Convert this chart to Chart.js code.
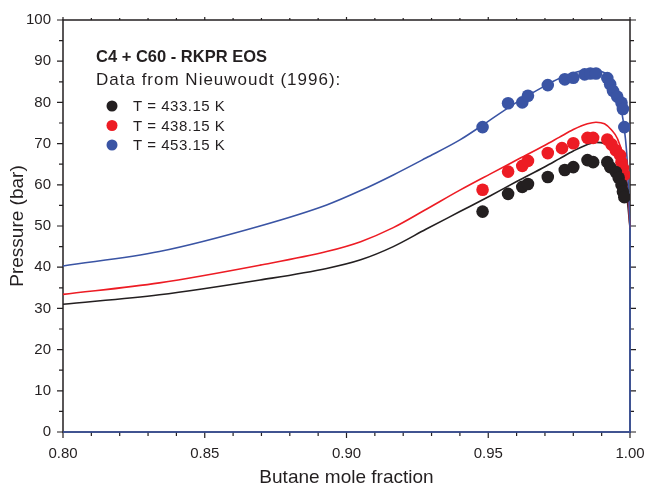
<!DOCTYPE html>
<html>
<head>
<meta charset="utf-8">
<script src="https://cdn.jsdelivr.net/npm/chart.js@4"></script>
<style>
  html, body { margin: 0; padding: 0; background: #fff; }
  #wrap { width: 646px; height: 489px; }
</style>
</head>
<body>
<div id="wrap"><canvas id="chart" width="646" height="489"></canvas></div>
<script>
/* === DATA === */
const tempLabels = ['T = 433.15 K', 'T = 438.15 K', 'T = 453.15 K'];
const colors = ['#231f20', '#ed1c24', '#3a54a4'];

// experimental points [x, P]
const exp433 = [[0.948,53.5],[0.957,57.8],[0.962,59.5],[0.964,60.2],[0.971,61.9],[0.977,63.6],[0.980,64.3],
  [0.985,66.0],[0.987,65.5],[0.992,65.5],[0.993,64.3],[0.995,63.1],[0.996,61.7],[0.997,60.0],[0.9975,58.3],[0.998,57.0]];
const exp438 = [[0.948,58.8],[0.957,63.2],[0.962,64.6],[0.964,65.8],[0.971,67.7],[0.976,68.9],[0.980,70.1],
  [0.985,71.4],[0.987,71.4],[0.992,71.0],[0.9935,69.8],[0.995,68.4],[0.9965,67.2],[0.997,65.5],[0.9975,64.1],[0.998,62.4]];
const exp453 = [[0.948,74.0],[0.957,79.8],[0.962,80.0],[0.964,81.6],[0.971,84.2],[0.977,85.6],[0.980,86.0],
  [0.984,86.8],[0.986,87.0],[0.988,87.0],[0.992,85.9],[0.993,84.4],[0.994,82.8],[0.9955,81.4],[0.997,79.9],[0.9975,78.4],[0.998,74.0]];

// RKPR model curves
const calcX   = [0.80, 0.834, 0.8695, 0.893, 0.905, 0.9165, 0.928, 0.94, 0.9506, 0.96, 0.97, 0.975, 0.98, 0.985, 0.988, 0.991, 0.9935, 0.9955, 0.9975, 0.999, 1.0];
const calc433 = [31.0, 33.3, 36.9, 39.7, 41.8, 45.0, 49.2, 53.5, 57.3, 60.8, 64.4, 66.3, 68.2, 69.8, 70.3, 70.0, 68.8, 67.0, 63.0, 56.5, 49.5];
const calc438 = [33.4, 36.2, 40.5, 43.8, 46.2, 49.6, 54.0, 58.7, 62.6, 66.0, 69.6, 71.5, 73.4, 74.8, 75.2, 74.8, 73.3, 71.3, 67.0, 60.0, 49.5];
const calc453 = [40.3, 43.8, 50.0, 55.1, 58.6, 62.4, 66.5, 70.9, 75.7, 80.0, 84.0, 85.8, 87.1, 87.9, 87.8, 87.2, 85.8, 82.6, 76.0, 66.0, 49.5];
// the 453.15 K envelope runs on down x = 1 and back along P = 0
const tailX = [1.0, 1.0, 0.80];
const tailP = [49.5, 0, 0];

const xTicks = ['0.80', '0.85', '0.90', '0.95', '1.00'];
const yTicks = ['0', '10', '20', '30', '40', '50', '60', '70', '80', '90', '100'];

const FONT = '"Liberation Sans", Arial, sans-serif';
const INK = '#231f20';

function pts(arr) { return arr.map(p => ({ x: p[0], y: p[1] })); }
function curve(xs, ys) { return xs.map((x, i) => ({ x: x, y: ys[i] })); }

function lineSet(data, color, order, smooth) {
    return { type: 'line', data: data, borderColor: color, borderWidth: 1.6, pointRadius: 0,
             fill: false, tension: smooth ? 0.4 : 0, cubicInterpolationMode: smooth ? 'monotone' : 'default',
             order: order, clip: false };
}
function dotSet(data, color, order) {
    return { type: 'scatter', data: pts(data), backgroundColor: color, borderColor: color,
             pointRadius: 6.3, pointBorderWidth: 0, order: order };
}

/* === FRAME, MINOR TICKS, ANNOTATION === */
const framePlugin = {
    id: 'frame',
    beforeDatasetsDraw(chart) {
        const { ctx, chartArea: a, scales } = chart;
        ctx.save();
        ctx.strokeStyle = INK;
        ctx.lineWidth = 1.5;
        ctx.strokeRect(a.left, a.top, a.right - a.left, a.bottom - a.top);
        ctx.lineWidth = 1.2;
        ctx.beginPath();
        for (let i = 0; i <= 20; i++) {
            const px = scales.x.getPixelForValue(0.80 + i * 0.01);
            const len = i % 5 === 0 ? 6 : 4;
            ctx.moveTo(px, a.bottom); ctx.lineTo(px, a.bottom + len);
            ctx.moveTo(px, a.top); ctx.lineTo(px, a.top - (i % 5 === 0 ? 3 : 2));
        }
        for (let i = 0; i <= 20; i++) {
            const py = scales.y.getPixelForValue(i * 5);
            const len = i % 2 === 0 ? 6 : 4;
            ctx.moveTo(a.left, py); ctx.lineTo(a.left - len, py);
            ctx.moveTo(a.right, py); ctx.lineTo(a.right + len, py);
        }
        ctx.stroke();
        ctx.restore();
    },
    afterDraw(chart) {
        const { ctx } = chart;
        ctx.save();
        ctx.fillStyle = INK;
        ctx.textBaseline = 'middle';
        ctx.font = 'bold 16.5px ' + FONT;
        ctx.fillText('C4 + C60 - RKPR EOS', 96, 57);
        ctx.font = '17px ' + FONT;
        ctx.letterSpacing = '1px';
        ctx.fillText('Data from Nieuwoudt (1996):', 96, 80);
        ctx.font = '15px ' + FONT;
        ctx.letterSpacing = '0.5px';
        tempLabels.forEach((t, i) => {
            const y = 106 + i * 19.5;
            ctx.fillStyle = colors[i];
            ctx.beginPath(); ctx.arc(112, y, 5.5, 0, Math.PI * 2); ctx.fill();
            ctx.fillStyle = INK;
            ctx.fillText(t, 133, y + 1);
        });
        ctx.restore();
    }
};

new Chart(document.getElementById('chart'), {
    type: 'scatter',
    data: {
        datasets: [
            dotSet(exp433, colors[0], 0),
            dotSet(exp438, colors[1], 1),
            dotSet(exp453, colors[2], 2),
            lineSet(curve(calcX, calc433), colors[0], 5, true),
            lineSet(curve(calcX, calc438), colors[1], 4, true),
            lineSet(curve(calcX, calc453), colors[2], 3, true),
            lineSet(curve(tailX, tailP), colors[2], 3, false)
        ]
    },
    options: {
        responsive: false,
        animation: false,
        layout: { padding: { left: 0, top: 20, right: 16, bottom: 0 } },
        plugins: { legend: { display: false }, tooltip: { enabled: false } },
        scales: {
            x: {
                type: 'linear', min: 0.80, max: 1.00,
                grid: { display: false, drawTicks: false }, border: { display: false },
                afterFit: s => { s.height = 57; s.paddingLeft = 0; s.paddingRight = 0; },
                afterBuildTicks: s => { s.ticks = xTicks.map(v => ({ value: parseFloat(v) })); },
                ticks: { padding: 13, color: INK, font: { family: FONT, size: 15 },
                         callback: (v, i) => xTicks[i] },
                title: { display: true, text: 'Butane mole fraction', color: INK,
                         font: { family: FONT, size: 19 }, padding: { top: 0, bottom: 0 } }
            },
            y: {
                type: 'linear', min: 0, max: 100,
                grid: { display: false, drawTicks: false }, border: { display: false },
                afterFit: s => { s.width = 63; s.paddingTop = 0; s.paddingBottom = 0; },
                afterBuildTicks: s => { s.ticks = yTicks.map(v => ({ value: parseFloat(v) })); },
                ticks: { padding: 12, color: INK, font: { family: FONT, size: 15 },
                         callback: (v, i) => yTicks[i] },
                title: { display: true, text: 'Pressure (bar)', color: INK,
                         font: { family: FONT, size: 19 }, padding: { top: 6, bottom: 4 } }
            }
        }
    },
    plugins: [framePlugin]
});
</script>
</body>
</html>
